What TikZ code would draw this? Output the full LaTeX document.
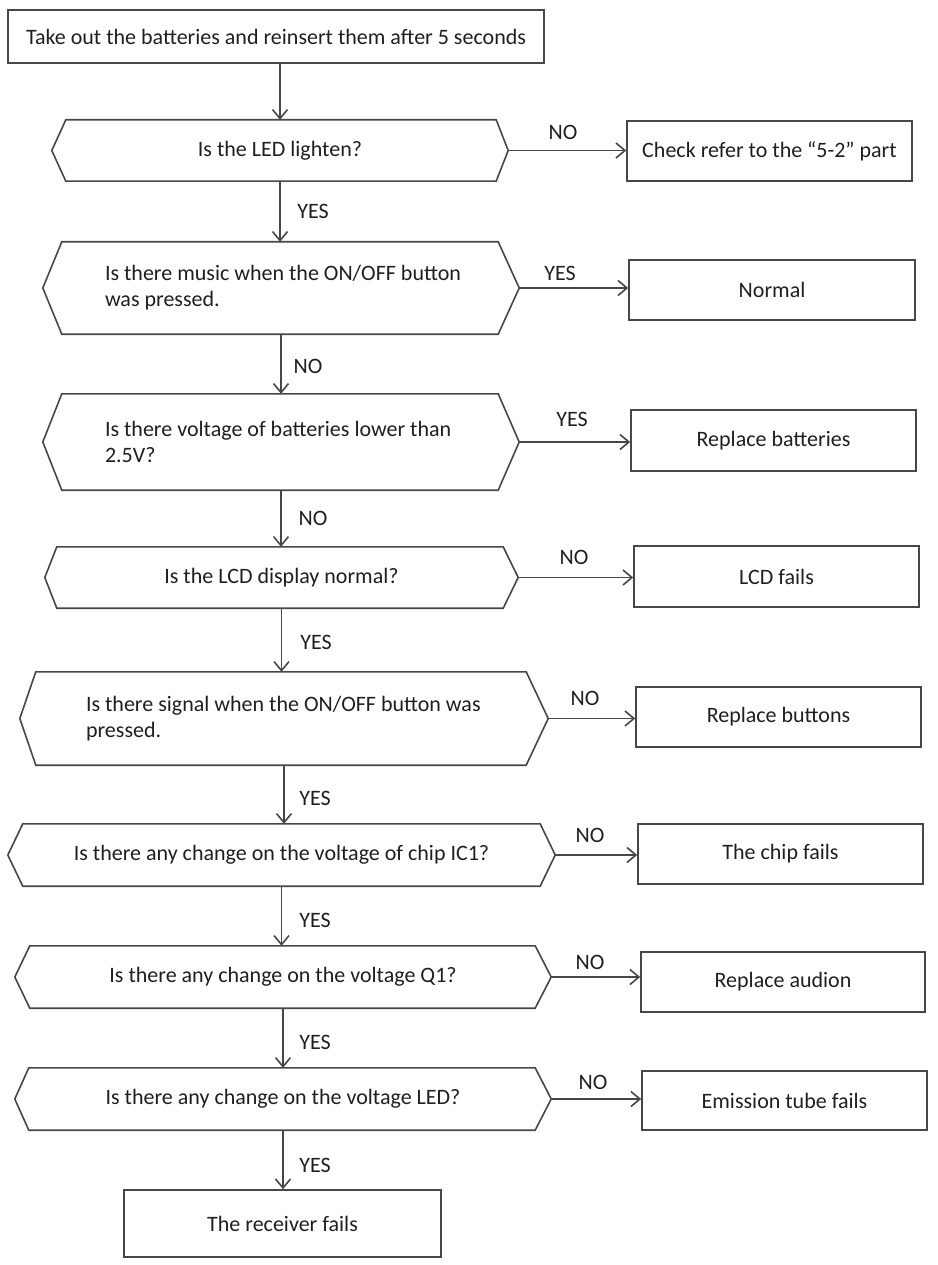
\documentclass[tikz,border=0pt]{standalone}
\usepackage{fontspec}
\setmainfont{Carlito}
\usetikzlibrary{arrows.meta}
\newcommand\hexdraw[3]{%
  \draw[shapeline] (#1.west) -- ([xshift=#2]#1.north west) -- ([xshift=-#3]#1.north east) -- (#1.east)
    -- ([xshift=-#3]#1.south east) -- ([xshift=#2]#1.south west) -- cycle;}
\newcommand\normalspaces{\spaceskip=0pt\relax\xspaceskip=0pt\relax}
\begin{document}
\begin{tikzpicture}[x=1pt,y=-1pt,
  every node/.style={font=\fontsize{22}{26}\selectfont, text=black!88},
  shapeline/.style={draw=black!72, line width=1.6pt, line join=miter},
  boxnode/.style={draw=black!72, line width=1.6pt, rectangle, inner sep=0pt},
  hexnode/.style={rectangle, inner sep=0pt},
  lblnode/.style={inner sep=0pt},
  arr/.style={draw=black!72, line width=1.6pt, -{Straight Barb[length=9pt, width=15pt, line width=1.6pt]}}
]
\useasboundingbox (0,0) rectangle (937,1265);

% start box
\node[boxnode, minimum width=536, minimum height=53] (s) at (276,36.5) {Take out the batteries and reinsert them after 5 seconds};

% decision nodes
\node[hexnode, minimum width=456, minimum height=61] (q1) at (280,150.5) {Is the LED lighten?};
\node[hexnode, minimum width=476, minimum height=92, inner xsep=62pt, text width=352pt, align=left] (q2) at (281,288)
  {\normalspaces\mbox{Is there music when the ON/OFF button}\\was pressed.};
\node[hexnode, minimum width=476, minimum height=96, inner xsep=62pt, text width=352pt, align=left] (q3) at (281,442)
  {\normalspaces\mbox{Is there voltage of batteries lower than}\\2.5V?};
\node[hexnode, minimum width=473, minimum height=61] (q4) at (281.5,577.5) {Is the LCD display normal?};
\node[hexnode, minimum width=528, minimum height=93, inner xsep=66pt, text width=396pt, align=left] (q5) at (284,718.5)
  {\normalspaces\mbox{Is there signal when the ON/OFF button was}\\pressed.};
\node[hexnode, minimum width=547, minimum height=62] (q6) at (281.5,855) {Is there any change on the voltage of chip IC1?};
\node[hexnode, minimum width=536, minimum height=62] (q7) at (283,977) {Is there any change on the voltage Q1?};
\node[hexnode, minimum width=536, minimum height=62] (q8) at (283,1099) {Is there any change on the voltage LED?};

\hexdraw{q1}{14}{12}
\hexdraw{q2}{19}{21}
\hexdraw{q3}{19}{21}
\hexdraw{q4}{12}{15}
\hexdraw{q5}{16}{22}
\hexdraw{q6}{15}{15}
\hexdraw{q7}{15}{16}
\hexdraw{q8}{14}{16}

% result boxes
\node[boxnode, minimum width=285, minimum height=60] (b1) at (769.5,151) {Check refer to the “5-2” part};
\node[boxnode, minimum width=286, minimum height=60] (b2) at (772,290) {Normal};
\node[boxnode, minimum width=285, minimum height=61] (b3) at (773.5,440.5) {Replace batteries};
\node[boxnode, minimum width=285, minimum height=61] (b4) at (776.5,576.5) {LCD fails};
\node[boxnode, minimum width=285, minimum height=60] (b5) at (778.5,717) {Replace buttons};
\node[boxnode, minimum width=285, minimum height=60] (b6) at (780.5,854) {The chip fails};
\node[boxnode, minimum width=284, minimum height=60] (b7) at (783,982) {Replace audion};
\node[boxnode, minimum width=285, minimum height=59] (b8) at (784.5,1100.5) {Emission tube fails};
\node[boxnode, minimum width=317, minimum height=67] (r) at (282.5,1223.5) {The receiver fails};

% vertical connectors
\draw[arr] (s.south -| q1.north) -- (q1.north);
\draw[arr] (q1.south) -- (q1.south |- q2.north);
\draw[arr] (q2.south) -- (q2.south |- q3.north);
\draw[arr] (q3.south) -- (q3.south |- q4.north);
\draw[arr] (q4.south) -- (q4.south |- q5.north);
\draw[arr] (q5.south) -- (q5.south |- q6.north);
\draw[arr] (q6.south) -- (q6.south |- q7.north);
\draw[arr] (q7.south) -- (q7.south |- q8.north);
\draw[arr] (q8.south) -- (q8.south |- r.north);

% horizontal connectors
\draw[arr] (q1.east) -- (q1.east -| b1.west);
\draw[arr] (q2.east) -- (q2.east -| b2.west);
\draw[arr] (q3.east) -- (q3.east -| b3.west);
\draw[arr] (q4.east) -- (q4.east -| b4.west);
\draw[arr] (q5.east) -- (q5.east -| b5.west);
\draw[arr] (q6.east) -- (q6.east -| b6.west);
\draw[arr] (q7.east) -- (q7.east -| b7.west);
\draw[arr] (q8.east) -- (q8.east -| b8.west);

% labels on horizontal connectors
\node[lblnode] (h1) at (563,132) {NO};
\node[lblnode] (h2) at (560,273) {YES};
\node[lblnode] (h3) at (572,419) {YES};
\node[lblnode] (h4) at (574,557) {NO};
\node[lblnode] (h5) at (585,698) {NO};
\node[lblnode] (h6) at (590,835) {NO};
\node[lblnode] (h7) at (590,962) {NO};
\node[lblnode] (h8) at (593,1082) {NO};

% labels on vertical connectors
\node[lblnode] (v1) at (313,211) {YES};
\node[lblnode] (v2) at (308,366) {NO};
\node[lblnode] (v3) at (313,518) {NO};
\node[lblnode] (v4) at (316,642) {YES};
\node[lblnode] (v5) at (315,798) {YES};
\node[lblnode] (v6) at (315,920) {YES};
\node[lblnode] (v7) at (315,1042) {YES};
\node[lblnode] (v8) at (315,1165) {YES};
\end{tikzpicture}
\end{document}
